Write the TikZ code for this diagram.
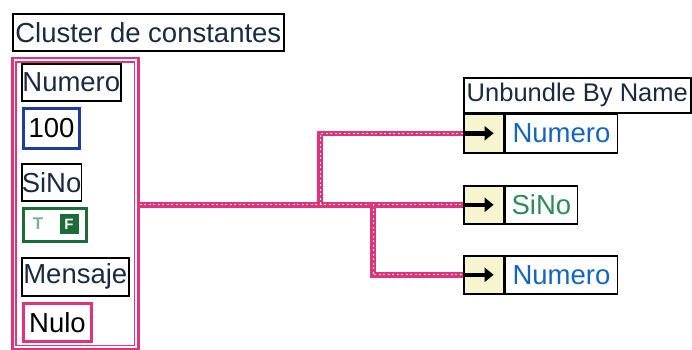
\documentclass[tikz,border=0pt]{standalone}
\usepackage{fontspec}
\setmainfont{Liberation Sans}
\usetikzlibrary{positioning,arrows.meta}

\definecolor{rosa}{HTML}{E0337A}
\definecolor{azulborde}{HTML}{1F3C9A}
\definecolor{azultexto}{HTML}{1565C0}
\definecolor{verdetexto}{HTML}{2E8B57}
\definecolor{verdebool}{HTML}{1E6B3A}
\definecolor{crema}{HTML}{F7F5CF}
\definecolor{tinta}{HTML}{1A2A40}

\begin{document}
\begin{tikzpicture}[x=1pt, y=-1pt,
  lbl/.style={draw=black, line width=1.6pt, inner sep=0pt, anchor=north west,
    text=tinta, font=\fontsize{27.5}{27.5}\selectfont},
  cte/.style={lbl, line width=3pt, text=black},
  cable/.style={draw=rosa, line width=5.5pt,
    postaction={draw=white, line width=1pt, dash pattern=on 2pt off 2.5pt}},
  flecha/.style={cell, fill=crema, minimum width=40pt},
  cell/.style={draw=black, line width=1.6pt, inner sep=0pt, minimum height=39pt,
    font=\fontsize{27.5}{27.5}\selectfont},
  salida/.style={cell, right=0pt of #1, anchor=west}
  ]
  \useasboundingbox (0,0) rectangle (692,350);

  % cluster constant
  \node[lbl, minimum width=271pt, minimum height=37pt] (titulo) at (12,13) {Cluster de constantes};
  \node[draw=rosa, line width=2.5pt, anchor=north west, minimum width=126pt,
    minimum height=291pt] (clu) at (11,57) {};
  \draw[rosa, line width=1.2pt] ([shift={(5,5)}]clu.north west)
    rectangle ([shift={(-5,-5)}]clu.south east);

  \node[lbl, minimum width=99pt, minimum height=37pt] (numlbl) at (21,63) {Numero};
  \node[cte, draw=azulborde, minimum width=56pt, minimum height=40pt] (cien) at (22,107) {100};
  \node[lbl, minimum width=59pt, minimum height=37pt] (sinolbl) at (21,163) {SiNo};
  \node[cte, draw=verdebool, minimum width=63pt, minimum height=33pt] (bool) at (22,207) {};
  \node[text=verdebool!55, font=\fontsize{17}{17}\selectfont\bfseries] (cierto) at (38,224) {T};
  \node[fill=verdebool, text=white, inner sep=0pt, minimum width=19pt, minimum height=20pt,
    font=\fontsize{15}{15}\selectfont\bfseries] (falso) at (69,224) {F};
  \node[lbl, minimum width=107pt, minimum height=38pt] (menlbl) at (21,257) {Mensaje};
  \node[cte, draw=rosa, minimum width=68pt, minimum height=38pt] (nulo) at (22,302) {Nulo};

  % unbundle by name
  \node[lbl, minimum width=227pt, minimum height=35pt, font=\fontsize{25.5}{25.5}\selectfont]
    (ubn) at (463,77) {Unbundle By Name};
  \node[flecha, anchor=north west] (r1) at (463,113) {};
  \node[flecha, anchor=north west, minimum height=38pt] (r2) at (463,185) {};
  \node[flecha, anchor=north west, minimum height=38pt] (r3) at (463,255) {};
  \node[salida=r1, minimum width=112pt, text=azultexto] (n1) {Numero};
  \node[salida=r2, minimum width=72pt, minimum height=38pt, text=verdetexto] (n2) {SiNo};
  \node[salida=r3, minimum width=112pt, minimum height=38pt, text=azultexto] (n3) {Numero};

  % wires
  \coordinate (j1) at (320,204);
  \coordinate (j2) at (373,204);
  \draw[cable] (clu.east |- r2.west) -- (r2.west);
  \draw[cable] (j1) |- (r1.west);
  \draw[cable] (j2) |- (r3.west);

  \foreach \r in {r1,r2,r3}
    \draw[line width=4.5pt, -{Triangle[length=9pt, width=14pt]}]
      ([xshift=2pt]\r.west) -- ([xshift=-11pt]\r.east);
\end{tikzpicture}
\end{document}
